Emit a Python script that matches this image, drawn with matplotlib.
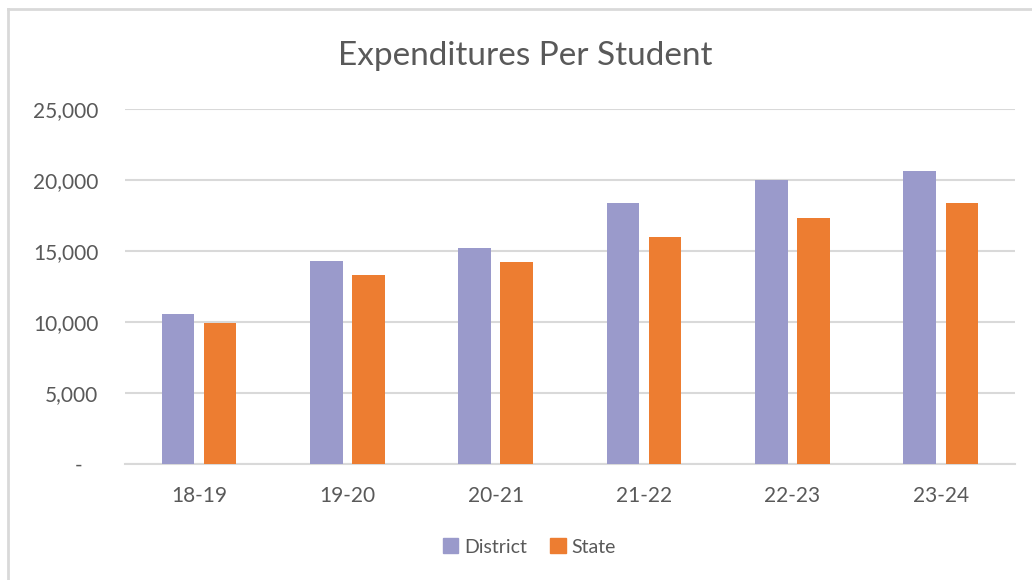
import matplotlib.pyplot as plt
from matplotlib.lines import Line2D
from matplotlib.patches import Patch
import numpy as np

plt.rcParams['font.family'] = ['Lato', 'DejaVu Sans']

# ---------- data ----------
years = ["18-19", "19-20", "20-21", "21-22", "22-23", "23-24"]
district = [10550, 14300, 15200, 18350, 20000, 20650]
state = [9950, 13300, 14200, 16000, 17350, 18350]
yticks = [0, 5000, 10000, 15000, 20000, 25000]

district_color = "#9A9ACB"
state_color = "#ED7D31"
text_color = "#595959"
grid_color = "#D9D9D9"

fig = plt.figure(figsize=(10.32, 5.8), dpi=100)
ax = fig.add_axes([0.121, 0.2, 0.8625, 0.612])

x = np.arange(len(years))
w = 0.22
ax.bar(x - 0.142, district, width=w, color=district_color, zorder=3)
ax.bar(x + 0.142, state, width=w, color=state_color, zorder=3)

ax.set_xlim(-0.5, len(years) - 0.5)
ax.set_ylim(0, 25000)
ax.set_yticks(yticks)
ax.set_yticklabels([f"{v:,}" if v else "-   " for v in yticks])
ax.set_xticks(x)
ax.set_xticklabels(years)
ax.tick_params(length=0, labelsize=15, colors=text_color)
ax.tick_params(axis='y', pad=19)
ax.tick_params(axis='x', pad=16)

ax.grid(axis='y', color=grid_color, linewidth=1.5, zorder=0)
for s in ['top', 'right', 'left']:
    ax.spines[s].set_visible(False)
ax.spines['bottom'].set_color(grid_color)
ax.spines['bottom'].set_linewidth(1.5)

fig.text(0.509, 0.903, "Expenditures Per Student", ha='center', va='center',
         fontsize=24, color=text_color)

handles = [Patch(color=district_color, label="District"),
           Patch(color=state_color, label="State")]
fig.legend(handles=handles, loc='center', bbox_to_anchor=(0.513, 0.057), ncol=2,
           frameon=False, fontsize=14, labelcolor=text_color,
           handlelength=0.8, handleheight=0.8, handletextpad=0.3, columnspacing=1.2)

# light frame around the chart area (left and top edges visible)
fig.add_artist(Line2D([0.0075, 0.0075], [0, 0.985], transform=fig.transFigure,
                      color="#D9D9D9", linewidth=2))
fig.add_artist(Line2D([0.0075, 1.0], [0.985, 0.985], transform=fig.transFigure,
                      color="#D9D9D9", linewidth=2))

fig.savefig("out.png", dpi=100)
